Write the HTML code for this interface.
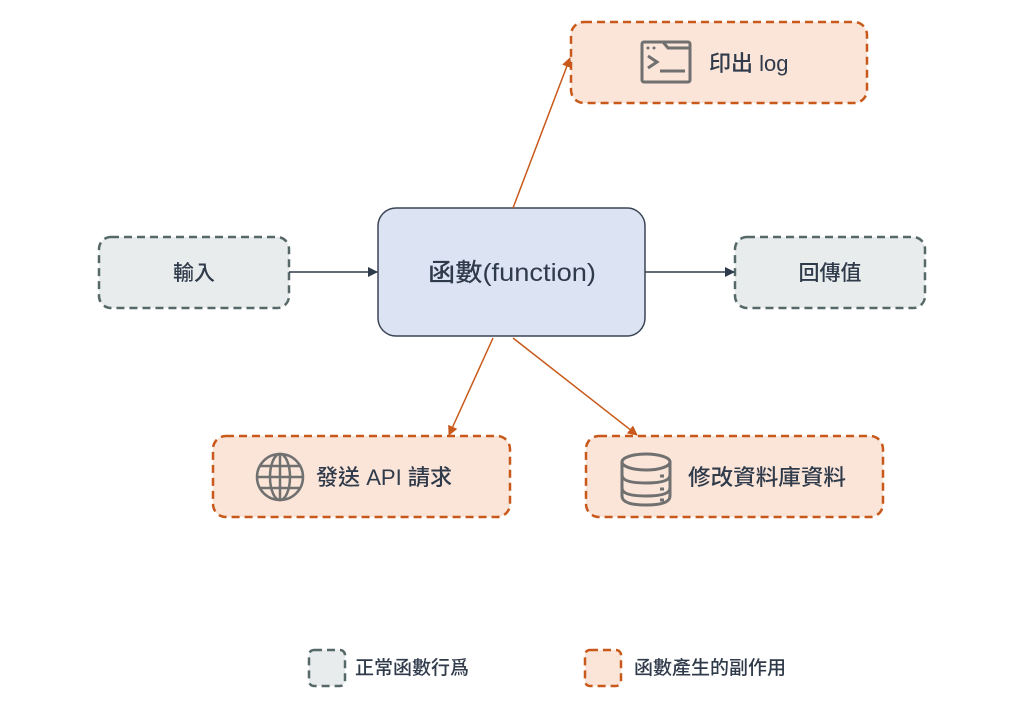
<!DOCTYPE html>
<html><head><meta charset="utf-8"><style>
html,body{margin:0;padding:0;background:#fff;}
text{font-family:"Liberation Sans","Noto Sans CJK TC",sans-serif;fill:#2f3a4a;font-weight:500;}
</style></head><body>
<svg width="1024" height="708" viewBox="0 0 1024 708" xmlns="http://www.w3.org/2000/svg">
<defs>
<marker id="ao" markerWidth="10" markerHeight="10" refX="9" refY="5" orient="auto" markerUnits="userSpaceOnUse"><path d="M0,0 L10,5 L0,10 z" fill="#c8591a"/></marker>
<marker id="ad" markerWidth="10" markerHeight="10" refX="9" refY="5" orient="auto" markerUnits="userSpaceOnUse"><path d="M0,0 L10,5 L0,10 z" fill="#2f3a4a"/></marker>
</defs>
<g stroke-width="2.5" stroke-dasharray="8,5">
<rect x="571" y="22" width="296" height="81" rx="13" fill="#fbe5d8" stroke="#c8591a"/>
<rect x="99" y="237" width="190" height="71" rx="12" fill="#e8ecec" stroke="#566868"/>
<rect x="735" y="237" width="190" height="71" rx="12" fill="#e8ecec" stroke="#566868"/>
<rect x="213" y="436" width="297" height="81" rx="13" fill="#fbe5d8" stroke="#c8591a"/>
<rect x="586" y="436" width="297" height="81" rx="13" fill="#fbe5d8" stroke="#c8591a"/>
<rect x="309" y="650" width="36" height="36" rx="5" fill="#e8ecec" stroke="#566868"/>
<rect x="585" y="650" width="36" height="36" rx="5" fill="#fbe5d8" stroke="#c8591a"/>
</g>
<rect x="378" y="208" width="267" height="128" rx="18" fill="#dce4f3" stroke="#3b4556" stroke-width="1.5"/>
<g stroke-width="1.5" fill="none">
<line x1="289" y1="272" x2="377" y2="272" stroke="#2f3a4a" marker-end="url(#ad)"/>
<line x1="645" y1="272" x2="734" y2="272" stroke="#2f3a4a" marker-end="url(#ad)"/>
<line x1="513" y1="208" x2="570" y2="58" stroke="#c8591a" marker-end="url(#ao)"/>
<line x1="493" y1="338" x2="449" y2="435" stroke="#c8591a" marker-end="url(#ao)"/>
<line x1="513" y1="338" x2="637" y2="435" stroke="#c8591a" marker-end="url(#ao)"/>
</g>
<!-- terminal icon -->
<g stroke="#707070" stroke-width="3" fill="none">
<rect x="642" y="42" width="48" height="40" rx="2"/>
<path d="M663,42 L668,48 H690"/>
<path d="M648,56 L657,62 L648,68"/>
<line x1="660" y1="71" x2="685" y2="71"/>
</g>
<circle cx="648" cy="48" r="1.5" fill="#707070"/><circle cx="654" cy="48" r="1.5" fill="#707070"/>
<!-- globe -->
<g stroke="#707070" stroke-width="2.5" fill="none">
<circle cx="280" cy="477" r="23"/>
<ellipse cx="280" cy="477" rx="10" ry="23"/>
<line x1="280" y1="454" x2="280" y2="500"/>
<line x1="257" y1="477" x2="303" y2="477"/>
<line x1="260" y1="466" x2="300" y2="466"/>
<line x1="260" y1="488" x2="300" y2="488"/>
</g>
<!-- db -->
<g stroke="#707070" stroke-width="3" fill="none">
<ellipse cx="646" cy="462" rx="24" ry="8"/>
<path d="M622,462 V496 Q622,505 646,505 Q670,505 670,496 V462"/>
<path d="M622,475 Q622,483 646,483 Q670,483 670,475"/>
<path d="M622,488 Q622,496 646,496 Q670,496 670,488"/>
<path d="M660,476 h4 M660,489 h4 M660,500 h4"/>
</g>
<text x="709" y="71" font-size="22">印出 log</text>
<text x="194" y="280" font-size="21" text-anchor="middle">輸入</text>
<text x="830" y="280" font-size="21" text-anchor="middle">回傳值</text>
<text x="512" y="281" font-size="25" text-anchor="middle" textLength="168" lengthAdjust="spacingAndGlyphs">函數(function)</text>
<text x="316" y="485" font-size="22" textLength="136" lengthAdjust="spacingAndGlyphs">發送 API 請求</text>
<text x="688" y="485" font-size="22" textLength="158" lengthAdjust="spacingAndGlyphs">修改資料庫資料</text>
<text x="355" y="674" font-size="19">正常函數行爲</text>
<text x="634" y="674" font-size="19">函數產生的副作用</text>
</svg>
</body></html>
